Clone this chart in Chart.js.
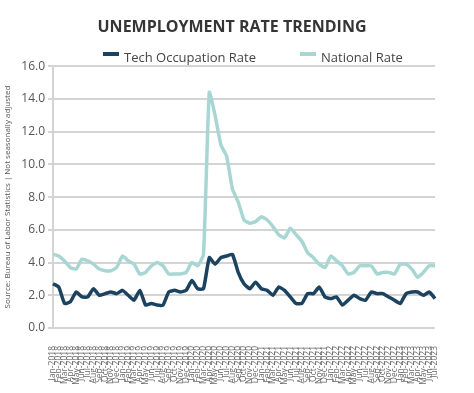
<!DOCTYPE html>
<html lang="en">
<head>
<meta charset="UTF-8" />
<title>Unemployment Rate Trending</title>
<script src="https://cdn.jsdelivr.net/npm/chart.js@4/dist/chart.umd.min.js"></script>
<style>
  html, body { margin: 0; padding: 0; background: #fff; }
  #wrap { position: relative; width: 474px; height: 393px; }
  #legend {
    position: absolute; top: 48px; left: 103px;
    display: flex; font: 13px "Open Sans", sans-serif; color: #444;
  }
  .item { display: flex; align-items: center; margin-right: 44px; }
  .swatch { width: 16px; height: 4px; margin-right: 5px; margin-top: -7px; }
</style>
</head>
<body>
<div id="wrap">
  <canvas id="chart" width="474" height="393"></canvas>
  <div id="legend"></div>
</div>
<script>
const months = [
  'Jan-2018', 'Feb-2018', 'Mar-2018', 'Apr-2018', 'May-2018', 'Jun-2018', 'Jul-2018', 'Aug-2018', 'Sep-2018', 'Oct-2018', 'Nov-2018', 'Dec-2018',
  'Jan-2019', 'Feb-2019', 'Mar-2019', 'Apr-2019', 'May-2019', 'Jun-2019', 'Jul-2019', 'Aug-2019', 'Sep-2019', 'Oct-2019', 'Nov-2019', 'Dec-2019',
  'Jan-2020', 'Feb-2020', 'Mar-2020', 'Apr-2020', 'May-2020', 'Jun-2020', 'Jul-2020', 'Aug-2020', 'Sep-2020', 'Oct-2020', 'Nov-2020', 'Dec-2020',
  'Jan-2021', 'Feb-2021', 'Mar-2021', 'Apr-2021', 'May-2021', 'Jun-2021', 'Jul-2021', 'Aug-2021', 'Sep-2021', 'Oct-2021', 'Nov-2021', 'Dec-2021',
  'Jan-2022', 'Feb-2022', 'Mar-2022', 'Apr-2022', 'May-2022', 'Jun-2022', 'Jul-2022', 'Aug-2022', 'Sep-2022', 'Oct-2022', 'Nov-2022', 'Dec-2022',
  'Jan-2023', 'Feb-2023', 'Mar-2023', 'Apr-2023', 'May-2023', 'Jun-2023', 'Jul-2023',
];

// Tech occupation unemployment rate (%).
const techRate = [
  2.7, 2.5, 1.5, 1.6, 2.2, 1.9, 1.9, 2.4, 2.0, 2.1, 2.2, 2.1,
  2.3, 2.0, 1.7, 2.3, 1.4, 1.5, 1.4, 1.4, 2.2, 2.3, 2.2, 2.3,
  2.9, 2.4, 2.4, 4.3, 3.9, 4.3, 4.4, 4.5, 3.4, 2.7, 2.4, 2.8,
  2.4, 2.3, 2.0, 2.5, 2.3, 1.9, 1.5, 1.5, 2.1, 2.1, 2.5, 1.9,
  1.8, 1.9, 1.4, 1.7, 2.0, 1.8, 1.7, 2.2, 2.1, 2.1, 1.9, 1.7,
  1.5, 2.1, 2.2, 2.2, 2.0, 2.2, 1.8,
];

// National unemployment rate (%), not seasonally adjusted.
const nationalRate = [
  4.5, 4.4, 4.1, 3.7, 3.6, 4.2, 4.1, 3.9, 3.6, 3.5, 3.5, 3.7,
  4.4, 4.1, 3.9, 3.3, 3.4, 3.8, 4.0, 3.8, 3.3, 3.3, 3.3, 3.4,
  4.0, 3.8, 4.5, 14.4, 13.0, 11.2, 10.5, 8.5, 7.7, 6.6, 6.4, 6.5,
  6.8, 6.6, 6.2, 5.7, 5.5, 6.1, 5.7, 5.3, 4.6, 4.3, 3.9, 3.7,
  4.4, 4.1, 3.8, 3.3, 3.4, 3.8, 3.8, 3.8, 3.3, 3.4, 3.4, 3.3,
  3.9, 3.9, 3.6, 3.1, 3.4, 3.8, 3.8,
];

const SERIES = [
  { label: 'Tech Occupation Rate', data: techRate, color: '#1b4360' },
  { label: 'National Rate', data: nationalRate, color: '#a8d6d3' },
];

const GRID = '#d4d4d4';
const FONT = '"Open Sans", sans-serif';

// Legend drawn as plain html so the item gap matches the picture.
document.getElementById('legend').innerHTML = SERIES
  .map((s) => `<div class="item"><span class="swatch" style="background:${s.color}"></span>${s.label}</div>`)
  .join('');

new Chart(document.getElementById('chart'), {
  type: 'line',
  data: {
    labels: months,
    datasets: SERIES.map((s) => ({
      label: s.label,
      data: s.data,
      borderColor: s.color,
      backgroundColor: s.color,
      borderWidth: 3.5,
      pointRadius: 0,
      tension: 0.15,
    })),
  },
  options: {
    responsive: false,
    animation: false,
    layout: { padding: { left: 0, right: 10, top: 0, bottom: 0 } },
    plugins: {
      legend: { display: false },
      tooltip: { enabled: false },
      title: {
        display: true,
        text: 'UNEMPLOYMENT RATE TRENDING',
        color: '#353535',
        font: { family: FONT, size: 16, weight: 'bold' },
        padding: { top: 18, bottom: 29 },
      },
    },
    scales: {
      x: {
        offset: false,
        grid: { display: false },
        border: { display: false },
        ticks: {
          autoSkip: false,
          minRotation: 90,
          maxRotation: 90,
          padding: 10,
          color: '#6a6a6a',
          font: { family: FONT, size: 8.5 },
        },
        afterFit: (scale) => { scale.height = 65; },
      },
      y: {
        min: 0,
        max: 16,
        ticks: {
          stepSize: 2,
          padding: 3,
          color: '#555',
          font: { family: FONT, size: 12 },
          callback: (v) => Number(v).toFixed(1),
        },
        grid: { color: GRID, lineWidth: 2, tickLength: 5, tickColor: GRID },
        border: { display: true, color: GRID, width: 2 },
        title: {
          display: true,
          text: 'Source: Bureau of Labor Statistics | Not seasonally adjusted',
          color: '#555',
          font: { family: FONT, size: 8 },
          padding: { top: 3, bottom: 0 },
        },
        afterFit: (scale) => { scale.width = 53; },
      },
      // empty right-hand spacer so the plot ends where the picture's does
      spacer: {
        type: 'linear',
        position: 'right',
        display: true,
        grid: { display: false },
        border: { display: false },
        ticks: { display: false },
        afterFit: (scale) => { scale.width = 29; },
      },
    },
  },
});
</script>
</body>
</html>
